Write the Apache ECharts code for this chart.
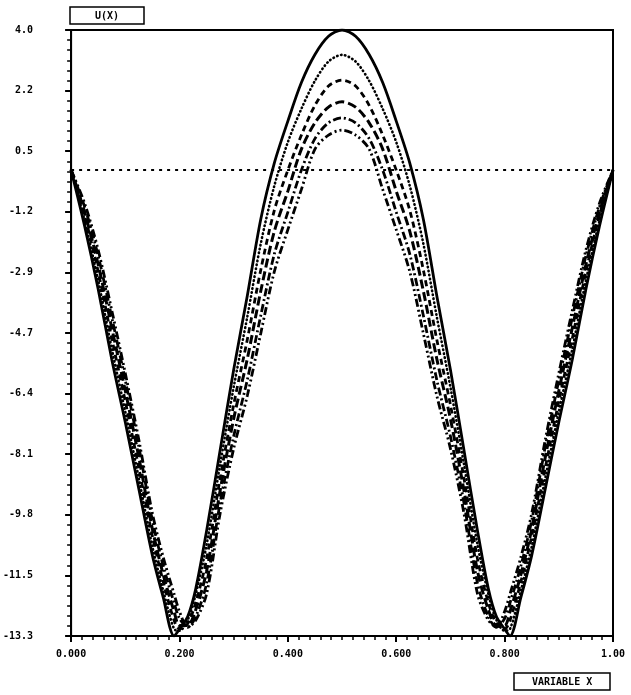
<!DOCTYPE html>
<html>
<head>
<meta charset="utf-8">
<script src="https://cdn.jsdelivr.net/npm/echarts@6/dist/echarts.min.js"></script>
<style>
html,body{margin:0;padding:0;background:#fff;}
#chart{width:631px;height:695px;}
</style>
</head>
<body>
<div id="chart"></div>
<script>
// x sample positions (VARIABLE X)
const xs = [0, 0.025, 0.05, 0.075, 0.1, 0.125, 0.15, 0.17, 0.19, 0.2, 0.215, 0.23, 0.25, 0.275, 0.3, 0.325, 0.35, 0.375, 0.4, 0.425, 0.45, 0.475, 0.5,
            0.525, 0.55, 0.575, 0.6, 0.625, 0.65, 0.675, 0.7, 0.725, 0.75, 0.77, 0.785, 0.8, 0.81, 0.83, 0.85, 0.875, 0.9, 0.925, 0.95, 0.975, 1.0];

// U(X) curves
const uSolid = [0, -1.6, -3.4, -5.4, -7.2, -9.1, -11.0, -12.2, -13.3, -13.1, -12.75, -11.95, -10.3, -8.0, -5.7, -3.6, -1.4, 0.2, 1.4, 2.5, 3.3, 3.82, 4.0,
                3.82, 3.3, 2.5, 1.4, 0.2, -1.4, -3.6, -5.7, -8.0, -10.3, -11.95, -12.75, -13.1, -13.3, -12.2, -11.0, -9.1, -7.2, -5.4, -3.4, -1.6, 0];
const uDotted = [0, -1.45, -3.15, -5.1, -6.9, -8.8, -10.75, -12.0, -13.1, -13.15, -12.85, -12.1, -10.7, -8.4, -6.2, -4.2, -2.1, -0.45, 0.8, 1.75, 2.55, 3.1, 3.29,
                 3.1, 2.55, 1.75, 0.8, -0.45, -2.1, -4.2, -6.2, -8.4, -10.7, -12.1, -12.85, -13.15, -13.1, -12.0, -10.75, -8.8, -6.9, -5.1, -3.15, -1.45, 0];
const uDashed = [0, -1.3, -2.9, -4.8, -6.6, -8.5, -10.45, -11.75, -12.85, -13.1, -12.95, -12.35, -11.1, -8.8, -6.7, -4.85, -2.85, -1.15, 0.0, 1.0, 1.85, 2.4, 2.57,
                 2.4, 1.85, 1.0, 0.0, -1.15, -2.85, -4.85, -6.7, -8.8, -11.1, -12.35, -12.95, -13.1, -12.85, -11.75, -10.45, -8.5, -6.6, -4.8, -2.9, -1.3, 0];
const uLongDash = [0, -1.2, -2.7, -4.5, -6.3, -8.2, -10.25, -11.55, -12.6, -13.0, -13.0, -12.55, -11.45, -9.15, -7.1, -5.4, -3.45, -1.75, -0.6, 0.6, 1.35, 1.8, 1.95,
                   1.8, 1.35, 0.6, -0.6, -1.75, -3.45, -5.4, -7.1, -9.15, -11.45, -12.55, -13.0, -13.0, -12.6, -11.55, -10.25, -8.2, -6.3, -4.5, -2.7, -1.2, 0];
const uDashDot = [0, -1.05, -2.45, -4.2, -6.0, -7.9, -10.0, -11.3, -12.35, -12.8, -13.05, -12.75, -11.8, -9.5, -7.6, -6.0, -4.15, -2.4, -1.2, 0.0, 0.9, 1.35, 1.49,
                  1.35, 0.9, 0.0, -1.2, -2.4, -4.15, -6.0, -7.6, -9.5, -11.8, -12.75, -13.05, -12.8, -12.35, -11.3, -10.0, -7.9, -6.0, -4.2, -2.45, -1.05, 0];
const uDashDotDot = [0, -0.95, -2.28, -4.0, -5.8, -7.7, -9.8, -11.05, -12.1, -12.6, -13.05, -12.85, -12.1, -9.8, -7.95, -6.45, -4.66, -2.9, -1.7, -0.55, 0.6, 1.0, 1.14,
                     1.0, 0.6, -0.55, -1.7, -2.9, -4.66, -6.45, -7.95, -9.8, -12.1, -12.85, -13.05, -12.6, -12.1, -11.05, -9.8, -7.7, -5.8, -4.0, -2.28, -0.95, 0];

// axis ticks / labels
const yMin = -13.3, yMax = 4.0, yStep = 1.73;
const yTickLabels = ['-13.3', '-11.5', '-9.8', '-8.1', '-6.4', '-4.7', '-2.9', '-1.2', '0.5', '2.2', '4.0'];
const xMin = 0, xMax = 1, xStep = 0.2;
const xTickLabels = ['0.000', '0.200', '0.400', '0.600', '0.800', '1.00'];
const zeroLevel = 0;

const curves = [
  {name: 'c1', values: uSolid,      style: {type: 'solid', width: 2.8}},
  {name: 'c2', values: uDotted,     style: {type: [0.5, 3.5], width: 2.6, cap: 'round'}},
  {name: 'c3', values: uDashed,     style: {type: [6, 4], width: 2.8}},
  {name: 'c4', values: uLongDash,   style: {type: [9, 4], width: 3}},
  {name: 'c5', values: uDashDot,    style: {type: [8, 3, 2, 3], width: 2.8}},
  {name: 'c6', values: uDashDotDot, style: {type: [8, 3, 2, 3, 2, 3], width: 2.8}}
];

const labelFont = {color: '#000', fontFamily: 'DejaVu Sans Mono', fontWeight: 'bold', fontSize: 10};

const series = curves.map((c, k) => {
  const s = {
    type: 'line',
    name: c.name,
    data: xs.map((x, i) => [x, c.values[i]]),
    showSymbol: false,
    smooth: 0.3,
    animation: false,
    silent: true,
    lineStyle: Object.assign({color: '#000'}, c.style),
    z: 3
  };
  if (k === 0) {
    s.markLine = {
      silent: true,
      symbol: 'none',
      label: {show: false},
      lineStyle: {color: '#000', type: [3, 5], width: 2},
      data: [{yAxis: zeroLevel}]
    };
  }
  return s;
});

const chart = echarts.init(document.getElementById('chart'), null, {renderer: 'canvas'});
chart.setOption({
  backgroundColor: '#fff',
  animation: false,
  title: [
    {text: 'U(X)', left: 70, top: 7, padding: [4, 25, 3, 25],
     borderColor: '#000', borderWidth: 1.5,
     textStyle: Object.assign({}, labelFont, {fontSize: 10})},
    {text: 'VARIABLE X', left: 514, top: 673, padding: [4, 18, 3, 18],
     borderColor: '#000', borderWidth: 1.5,
     textStyle: Object.assign({}, labelFont, {fontSize: 10})}
  ],
  grid: {left: 71, right: 18, top: 30, bottom: 59, show: true, borderColor: '#000', borderWidth: 2, backgroundColor: 'transparent'},
  xAxis: {
    type: 'value', min: xMin, max: xMax, interval: xStep,
    axisLine: {show: true, onZero: false, lineStyle: {color: '#000', width: 2}},
    axisTick: {show: true, inside: false, length: 6, lineStyle: {color: '#000', width: 2}},
    minorTick: {show: true, splitNumber: 10, length: 4, lineStyle: {color: '#000', width: 1.5}},
    splitLine: {show: false},
    axisLabel: Object.assign({margin: 13, formatter: v => xTickLabels[Math.round((v - xMin) / xStep)]}, labelFont)
  },
  yAxis: {
    type: 'value', min: yMin, max: yMax, interval: yStep,
    axisLine: {show: true, onZero: false, lineStyle: {color: '#000', width: 2}},
    axisTick: {show: true, inside: false, length: 6, lineStyle: {color: '#000', width: 2}},
    minorTick: {show: true, splitNumber: 6, length: 4, lineStyle: {color: '#000', width: 1.5}},
    splitLine: {show: false},
    axisLabel: Object.assign({margin: 38, formatter: v => yTickLabels[Math.round((v - yMin) / yStep)]}, labelFont)
  },
  series: series
});
</script>
</body>
</html>
